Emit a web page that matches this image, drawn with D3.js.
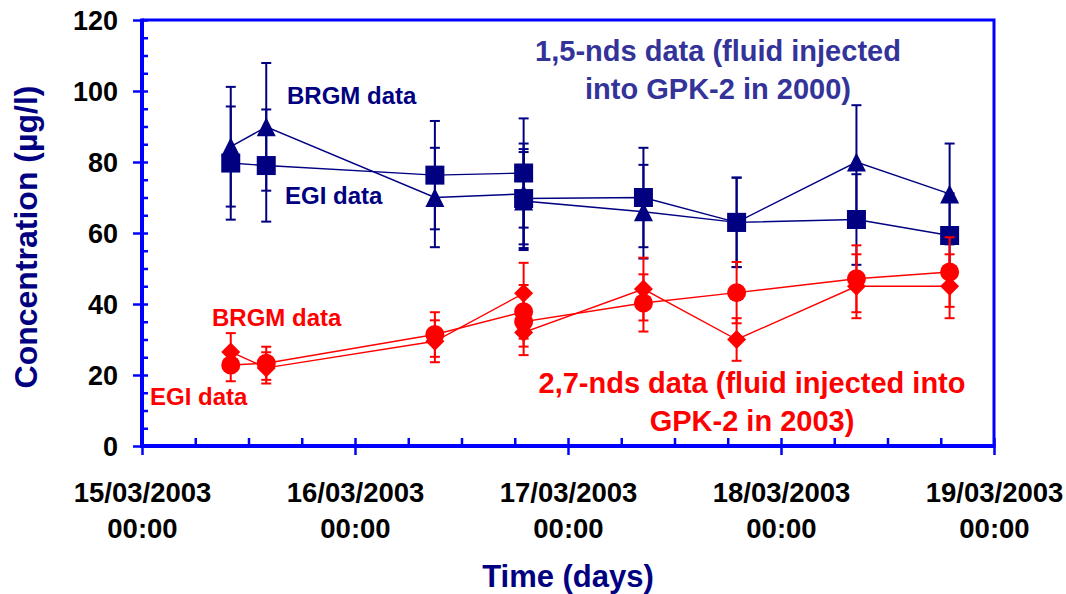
<!DOCTYPE html>
<html>
<head>
<meta charset="utf-8">
<script src="https://cdn.jsdelivr.net/npm/d3@7"></script>
<style>
  body { margin: 0; background: #fff; }
  svg { display: block; font-family: 'Liberation Sans', Arial, sans-serif; font-weight: bold; }
</style>
</head>
<body>
<svg id="chart" width="1066" height="594"></svg>
<script>
// sampling times (two samples share 16/03 19:00)
const times = [
  '2003-03-15 10:00', '2003-03-15 14:00', '2003-03-16 09:00', '2003-03-16 19:00',
  '2003-03-16 19:00', '2003-03-17 08:30', '2003-03-17 19:00', '2003-03-18 08:30',
  '2003-03-18 19:00',
];

// 1,5-nds (blue)
const nds15Brgm = [84.3, 89.9, 70, 71, 69, 66, 63, 80, 71];
const nds15Egi = [79.7, 79, 76.3, 76.9, 69.7, 70, 63, 63.8, 59.3];
// 2,7-nds (red)
const nds27Brgm = [26.5, 22, 29.5, 43, 32, 44.2, 30, 45, 45];
const nds27Egi = [22.8, 23.3, 31.4, 37.8, 35, 40.3, 43.2, 47.1, 49];

const errorPct = 0.2;
const yMajor = [0, 20, 40, 60, 80, 100, 120];
const xDays = ['2003-03-15 00:00', '2003-03-16 00:00', '2003-03-17 00:00', '2003-03-18 00:00', '2003-03-19 00:00'];

const navy = '#000080';
const red = '#ff0000';
const axisBlue = '#0000ff';

const parse = d3.utcParse('%Y-%m-%d %H:%M');
const svg = d3.select('#chart');

const x0 = 142, x1 = 994, y0 = 446, y1 = 20;

const x = d3.scaleUtc()
  .domain([parse(xDays[0]), parse(xDays[xDays.length - 1])])
  .range([x0, x1]);
const y = d3.scaleLinear().domain([0, 120]).range([y0, y1]);

// custom marker shapes (bounding box centred on the point)
const triangle = {
  draw(ctx, size) {
    const s = Math.sqrt(size) / 2;
    ctx.moveTo(0, -s); ctx.lineTo(s, s); ctx.lineTo(-s, s); ctx.closePath();
  },
};
const diamond = {
  draw(ctx, size) {
    const s = Math.sqrt(size) / 2;
    ctx.moveTo(0, -s); ctx.lineTo(s, 0); ctx.lineTo(0, s); ctx.lineTo(-s, 0); ctx.closePath();
  },
};

const series = [
  { values: nds15Brgm, color: navy, symbol: triangle, size: 19 * 19 },
  { values: nds15Egi, color: navy, symbol: d3.symbolSquare, size: 19 * 19 },
  { values: nds27Brgm, color: red, symbol: diamond, size: 19 * 19 },
  { values: nds27Egi, color: red, symbol: d3.symbolCircle, size: Math.PI * 9.5 * 9.5 },
];

// axes ////////////////////////////////////////////

// y: minor ticks inside every 5
svg.append('g')
  .attr('transform', `translate(${x0},0)`)
  .call(d3.axisRight(y).tickValues(d3.range(0, 121, 5)).tickSize(6).tickFormat(''))
  .call((g) => g.select('.domain').remove())
  .call((g) => g.selectAll('line').attr('stroke', axisBlue).attr('stroke-width', 2.5));

// y: major ticks with labels
svg.append('g')
  .attr('transform', `translate(${x0},0)`)
  .call(d3.axisLeft(y).tickValues(yMajor).tickSize(9).tickPadding(15))
  .call((g) => g.select('.domain').remove())
  .call((g) => g.selectAll('line').attr('stroke', axisBlue).attr('stroke-width', 2.5))
  .call((g) => g.selectAll('text')
    .attr('fill', '#000').attr('font-size', 27).attr('font-weight', 'bold')
    .attr('font-family', "'Liberation Sans', Arial, sans-serif").attr('dy', '0.36em'));

// x: 6-hour ticks inside
svg.append('g')
  .attr('transform', `translate(0,${y0})`)
  .call(d3.axisBottom(x).ticks(d3.utcHour.every(6)).tickSize(-8).tickFormat(''))
  .call((g) => g.select('.domain').remove())
  .call((g) => g.selectAll('line').attr('stroke', axisBlue).attr('stroke-width', 2.5));

// x: day ticks with two-line labels
const fmtDate = d3.utcFormat('%d/%m/%Y');
const fmtTime = d3.utcFormat('%H:%M');
svg.append('g')
  .attr('transform', `translate(0,${y0})`)
  .call(d3.axisBottom(x).tickValues(xDays.map(parse)).tickSize(9))
  .call((g) => g.select('.domain').remove())
  .call((g) => g.selectAll('line').attr('stroke', axisBlue).attr('stroke-width', 2.5))
  .call((g) => g.selectAll('.tick text')
    .text(null)
    .attr('fill', '#000').attr('font-size', 27.5).attr('font-weight', 'bold')
    .attr('font-family', "'Liberation Sans', Arial, sans-serif")
    .attr('dy', null)
    .selectAll('tspan')
    .data((d) => [fmtDate(d), fmtTime(d)])
    .join('tspan')
    .attr('x', 0)
    .attr('y', (d, i) => 56 + i * 36)
    .text((d) => d));

// frame
svg.append('path')
  .attr('d', `M${x0},${y1}H${x1}V${y0}`)
  .attr('fill', 'none').attr('stroke', axisBlue).attr('stroke-width', 3);
svg.append('path')
  .attr('d', `M${x0},${y1 - 1.5}V${y0}H${x1 + 1.5}`)
  .attr('fill', 'none').attr('stroke', axisBlue).attr('stroke-width', 4);

// series ////////////////////////////////////////////

const line = d3.line().x((d) => x(d.t)).y((d) => y(d.v));

series.forEach((s) => {
  const pts = s.values.map((v, i) => ({ t: parse(times[i]), v }));
  const g = svg.append('g');

  g.append('path')
    .datum(pts)
    .attr('d', line)
    .attr('fill', 'none')
    .attr('stroke', s.color)
    .attr('stroke-width', 1.4);

  // error bars +/- 20%
  const bars = g.selectAll('.err').data(pts).join('g').attr('class', 'err')
    .attr('stroke', s.color).attr('stroke-width', 2);
  bars.append('line')
    .attr('x1', (d) => x(d.t)).attr('x2', (d) => x(d.t))
    .attr('y1', (d) => y(d.v * (1 - errorPct))).attr('y2', (d) => y(d.v * (1 + errorPct)));
  [1 - errorPct, 1 + errorPct].forEach((k) => {
    bars.append('line')
      .attr('x1', (d) => x(d.t) - 5).attr('x2', (d) => x(d.t) + 5)
      .attr('y1', (d) => y(d.v * k)).attr('y2', (d) => y(d.v * k));
  });

  g.selectAll('.mark').data(pts).join('path').attr('class', 'mark')
    .attr('transform', (d) => `translate(${x(d.t)},${y(d.v)})`)
    .attr('d', d3.symbol().type(s.symbol).size(s.size))
    .attr('fill', s.color);
});

// texts ////////////////////////////////////////////

svg.append('text')
  .attr('transform', 'translate(37,237) rotate(-90)')
  .attr('text-anchor', 'middle')
  .attr('font-size', 32).attr('fill', navy)
  .text('Concentration (µg/l)');

svg.append('text')
  .attr('x', 568).attr('y', 587)
  .attr('text-anchor', 'middle')
  .attr('font-size', 31).attr('fill', navy)
  .text('Time (days)');

const labels = [
  { text: 'BRGM data', x: 287, y: 104, color: navy },
  { text: 'EGI data', x: 285, y: 204, color: navy },
  { text: 'BRGM data', x: 212, y: 326, color: red },
  { text: 'EGI data', x: 150, y: 405, color: red },
];
svg.selectAll('.lbl').data(labels).join('text').attr('class', 'lbl')
  .attr('x', (d) => d.x).attr('y', (d) => d.y)
  .attr('font-size', 24).attr('fill', (d) => d.color)
  .text((d) => d.text);

const notes = [
  { lines: ['1,5-nds data (fluid injected', 'into GPK-2 in 2000)'], x: 718, y: 61, color: '#333399' },
  { lines: ['2,7-nds data (fluid injected into', 'GPK-2 in 2003)'], x: 752, y: 393, color: red },
];
notes.forEach((n) => {
  svg.append('text')
    .attr('text-anchor', 'middle')
    .attr('font-size', 29).attr('fill', n.color)
    .selectAll('tspan').data(n.lines).join('tspan')
    .attr('x', n.x).attr('y', (d, i) => n.y + i * 38)
    .text((d) => d);
});
</script>
</body>
</html>
